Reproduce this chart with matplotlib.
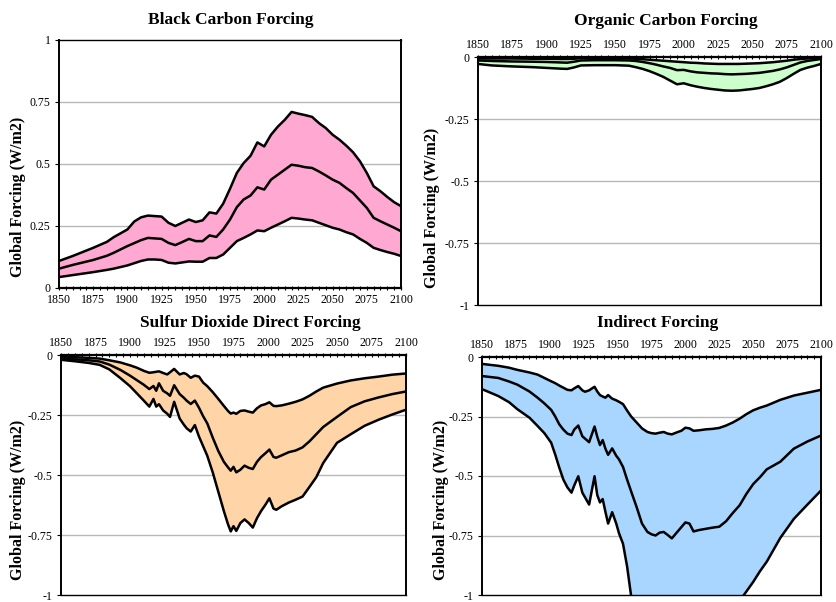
import numpy as np
import matplotlib
matplotlib.use("Agg")
import matplotlib.pyplot as plt

plt.rcParams['font.family'] = ['Liberation Serif', 'DejaVu Serif']

# ---- Black carbon (W/m2) ----
bc_years = [1850, 1860, 1875, 1885, 1890, 1900, 1905, 1910, 1915, 1920, 1925, 1930, 1935,
            1940, 1945, 1950, 1955, 1960, 1965, 1970, 1975, 1980, 1985, 1990, 1995, 2000,
            2005, 2010, 2015, 2020, 2025, 2030, 2035, 2040, 2045, 2050, 2055, 2060, 2065,
            2070, 2075, 2080, 2085, 2090, 2095, 2100]
bc_high = [0.109, 0.129, 0.162, 0.186, 0.205, 0.236, 0.268, 0.285, 0.292, 0.290, 0.288, 0.263, 0.250,
           0.263, 0.276, 0.266, 0.273, 0.305, 0.300, 0.340, 0.400, 0.464, 0.504, 0.533, 0.587, 0.571,
           0.618, 0.651, 0.678, 0.710, 0.703, 0.697, 0.690, 0.665, 0.645, 0.618, 0.598, 0.574, 0.547,
           0.511, 0.464, 0.410, 0.390, 0.367, 0.346, 0.330]
bc_mid = [0.078, 0.093, 0.113, 0.130, 0.142, 0.169, 0.181, 0.193, 0.202, 0.200, 0.198, 0.182, 0.173,
          0.185, 0.198, 0.189, 0.189, 0.212, 0.206, 0.236, 0.276, 0.326, 0.357, 0.373, 0.406, 0.397,
          0.437, 0.457, 0.477, 0.497, 0.493, 0.487, 0.484, 0.470, 0.454, 0.437, 0.424, 0.403, 0.383,
          0.353, 0.323, 0.283, 0.269, 0.256, 0.243, 0.229]
bc_low = [0.044, 0.052, 0.064, 0.073, 0.078, 0.091, 0.100, 0.109, 0.115, 0.115, 0.113, 0.102, 0.099,
          0.103, 0.107, 0.106, 0.106, 0.121, 0.121, 0.135, 0.162, 0.189, 0.202, 0.216, 0.232, 0.229,
          0.243, 0.256, 0.269, 0.283, 0.280, 0.276, 0.273, 0.263, 0.253, 0.243, 0.236, 0.225, 0.216,
          0.198, 0.182, 0.162, 0.153, 0.145, 0.138, 0.129]

# ---- Organic carbon ----
oc_years = [1850, 1860, 1875, 1890, 1900, 1910, 1915, 1920, 1925, 1935, 1950, 1960, 1965, 1970,
            1975, 1980, 1985, 1990, 1995, 2000, 2005, 2010, 2015, 2020, 2025, 2030, 2035, 2040,
            2045, 2050, 2055, 2060, 2065, 2070, 2075, 2080, 2085, 2090, 2095, 2100]
oc_high = [-0.006, -0.006, -0.006, -0.007, -0.007, -0.008, -0.008, -0.007, -0.005, -0.005, -0.005,
           -0.006, -0.007, -0.009, -0.011, -0.013, -0.015, -0.017, -0.019, -0.021, -0.023, -0.024,
           -0.026, -0.027, -0.028, -0.028, -0.028, -0.028, -0.027, -0.026, -0.025, -0.023, -0.021,
           -0.018, -0.015, -0.011, -0.008, -0.006, -0.004, -0.003]
oc_mid = [-0.014, -0.016, -0.018, -0.019, -0.020, -0.022, -0.023, -0.019, -0.014, -0.013, -0.013,
          -0.014, -0.016, -0.020, -0.025, -0.031, -0.038, -0.044, -0.053, -0.052, -0.058, -0.062,
          -0.064, -0.066, -0.067, -0.069, -0.070, -0.069, -0.068, -0.066, -0.064, -0.060, -0.056,
          -0.050, -0.042, -0.032, -0.022, -0.016, -0.012, -0.008]
oc_low = [-0.028, -0.034, -0.038, -0.041, -0.044, -0.047, -0.048, -0.042, -0.034, -0.033, -0.033,
          -0.035, -0.041, -0.048, -0.057, -0.068, -0.080, -0.095, -0.110, -0.106, -0.114, -0.120,
          -0.125, -0.129, -0.132, -0.135, -0.136, -0.135, -0.132, -0.129, -0.125, -0.118, -0.110,
          -0.100, -0.085, -0.068, -0.052, -0.043, -0.036, -0.028]

# ---- Sulfur dioxide direct ----
so2_years = [1850, 1860, 1870, 1878, 1885, 1893, 1900, 1905, 1910, 1914, 1917, 1919, 1921, 1924,
             1927, 1929, 1932, 1936, 1939, 1941, 1944, 1947, 1950, 1953, 1956, 1960, 1964, 1968,
             1971, 1973, 1975, 1977, 1980, 1983, 1986, 1989, 1992, 1995, 1998, 2001, 2004, 2006,
             2010, 2015, 2020, 2025, 2030, 2035, 2040, 2050, 2060, 2070, 2080, 2090, 2100]
so2_high = [-0.007, -0.009, -0.012, -0.015, -0.022, -0.031, -0.043, -0.053, -0.066, -0.074, -0.072,
            -0.070, -0.068, -0.075, -0.081, -0.072, -0.058, -0.081, -0.075, -0.080, -0.095, -0.086,
            -0.090, -0.115, -0.130, -0.155, -0.183, -0.212, -0.233, -0.244, -0.240, -0.245, -0.233,
            -0.231, -0.236, -0.240, -0.222, -0.210, -0.205, -0.197, -0.212, -0.213, -0.210, -0.203,
            -0.195, -0.185, -0.170, -0.152, -0.136, -0.119, -0.106, -0.097, -0.090, -0.082, -0.077]
so2_mid = [-0.014, -0.018, -0.022, -0.027, -0.040, -0.062, -0.086, -0.105, -0.124, -0.142, -0.129,
           -0.149, -0.118, -0.149, -0.160, -0.170, -0.126, -0.163, -0.178, -0.190, -0.204, -0.190,
           -0.220, -0.255, -0.285, -0.345, -0.400, -0.445, -0.468, -0.482, -0.466, -0.489, -0.478,
           -0.461, -0.470, -0.475, -0.445, -0.425, -0.410, -0.394, -0.425, -0.428, -0.418, -0.405,
           -0.398, -0.385, -0.360, -0.330, -0.300, -0.258, -0.217, -0.193, -0.177, -0.163, -0.152]
so2_low = [-0.020, -0.026, -0.033, -0.041, -0.060, -0.096, -0.130, -0.160, -0.190, -0.215, -0.183,
           -0.215, -0.205, -0.231, -0.245, -0.258, -0.195, -0.265, -0.290, -0.305, -0.319, -0.292,
           -0.340, -0.380, -0.420, -0.490, -0.570, -0.650, -0.705, -0.735, -0.713, -0.733, -0.700,
           -0.685, -0.700, -0.719, -0.680, -0.650, -0.625, -0.597, -0.640, -0.645, -0.630, -0.615,
           -0.603, -0.590, -0.550, -0.509, -0.450, -0.366, -0.330, -0.295, -0.270, -0.248, -0.228]

# ---- Indirect ----
ind_years = [1850, 1862, 1870, 1876, 1885, 1891, 1896, 1901, 1904, 1907, 1910, 1913, 1916, 1918,
             1921, 1924, 1926, 1929, 1933, 1935, 1937, 1939, 1941, 1943, 1946, 1949, 1951, 1954,
             1957, 1960, 1964, 1968, 1972, 1975, 1978, 1981, 1984, 1987, 1990, 1994, 1997, 2000,
             2003, 2006, 2010, 2015, 2020, 2025, 2030, 2035, 2040, 2045, 2050, 2055, 2060, 2070,
             2080, 2090, 2100]
ind_high = [-0.029, -0.037, -0.045, -0.054, -0.065, -0.074, -0.088, -0.102, -0.110, -0.120, -0.129,
            -0.138, -0.140, -0.132, -0.122, -0.140, -0.146, -0.140, -0.125, -0.145, -0.160, -0.166,
            -0.171, -0.160, -0.175, -0.182, -0.188, -0.198, -0.225, -0.250, -0.275, -0.300, -0.315,
            -0.320, -0.322, -0.318, -0.315, -0.322, -0.325, -0.316, -0.310, -0.297, -0.300, -0.310,
            -0.308, -0.304, -0.302, -0.298, -0.288, -0.275, -0.259, -0.240, -0.224, -0.213, -0.204,
            -0.180, -0.162, -0.150, -0.138]
ind_mid = [-0.080, -0.088, -0.103, -0.116, -0.145, -0.171, -0.195, -0.222, -0.250, -0.283, -0.305,
           -0.322, -0.328, -0.305, -0.288, -0.333, -0.343, -0.358, -0.292, -0.335, -0.370, -0.349,
           -0.385, -0.411, -0.384, -0.415, -0.430, -0.462, -0.515, -0.565, -0.630, -0.700, -0.735,
           -0.745, -0.750, -0.738, -0.735, -0.748, -0.762, -0.735, -0.715, -0.695, -0.700, -0.733,
           -0.727, -0.722, -0.717, -0.713, -0.690, -0.655, -0.623, -0.575, -0.534, -0.505, -0.472,
           -0.440, -0.385, -0.355, -0.330]
ind_low = [-0.135, -0.164, -0.190, -0.219, -0.255, -0.290, -0.320, -0.360, -0.410, -0.465, -0.515,
           -0.548, -0.570, -0.540, -0.501, -0.570, -0.590, -0.620, -0.501, -0.580, -0.611, -0.597,
           -0.650, -0.700, -0.652, -0.700, -0.740, -0.785, -0.880, -1.005, -1.100, -1.180, -1.240,
           -1.260, -1.270, -1.260, -1.260, -1.280, -1.290, -1.260, -1.240, -1.220, -1.225, -1.240,
           -1.230, -1.200, -1.170, -1.140, -1.100, -1.060, -1.025, -0.985, -0.945, -0.900, -0.860,
           -0.760, -0.680, -0.620, -0.561]

pos_ticks = [0, 0.25, 0.5, 0.75, 1]
pos_labels = ['0', '0.25', '0.5', '0.75', '1']
neg_ticks = [0, -0.25, -0.5, -0.75, -1]
neg_labels = ['0', '-0.25', '-0.5', '-0.75', '-1']
year_ticks = list(range(1850, 2101, 25))

W, H = 837, 602
fig = plt.figure(figsize=(W / 100, H / 100), dpi=100)


def px_axes(l, t, r, b):
    return fig.add_axes([l / W, 1 - b / H, (r - l) / W, (b - t) / H])


def panel(ax, years, hi, mid, lo, color, ticks, labels, top_axis):
    ax.fill_between(years, hi, lo, color=color, lw=0, zorder=2)
    for s in (hi, mid, lo):
        ax.plot(years, s, color='black', lw=1.8, zorder=3, solid_joinstyle='round')
    ax.set_xlim(1850, 2100)
    lo_lim, hi_lim = min(ticks), max(ticks)
    ax.set_ylim(lo_lim, hi_lim)
    ax.set_yticks(ticks)
    ax.set_yticklabels(labels)
    for t in ticks:
        if t not in (lo_lim, hi_lim) and t != 0:
            ax.axhline(t, color='#b8b8b8', lw=1.0, zorder=1)
    ax.set_xticks(year_ticks)
    ax.set_xticks(range(1850, 2101, 5), minor=True)
    ax.tick_params(axis='x', which='both', direction='inout', length=3, width=0.8,
                   labelsize=8.6, pad=2.5)
    ax.tick_params(axis='y', which='both', direction='out', length=3, width=0.8,
                   labelsize=8.6, pad=3)
    if top_axis:
        ax.xaxis.tick_top()
        ax.tick_params(axis='x', which='both', bottom=False)
    for sp in ax.spines.values():
        sp.set_color('black')
        sp.set_linewidth(1.0)
    ax.spines['left'].set_linewidth(1.4)
    ax.spines['top' if top_axis else 'bottom'].set_linewidth(1.6)
    ax.spines['right'].set_linewidth(1.4)


ax1 = px_axes(59, 40, 401, 288)
panel(ax1, bc_years, bc_high, bc_mid, bc_low, '#ffa8d2', pos_ticks, pos_labels, False)
ax2 = px_axes(478, 57, 821, 305)
panel(ax2, oc_years, oc_high, oc_mid, oc_low, '#ccffcc', neg_ticks, neg_labels, True)
ax3 = px_axes(61, 355, 406, 595)
panel(ax3, so2_years, so2_high, so2_mid, so2_low, '#ffd4a6', neg_ticks, neg_labels, True)
ax4 = px_axes(482, 357, 821, 595)
panel(ax4, ind_years, ind_high, ind_mid, ind_low, '#a8d6ff', neg_ticks, neg_labels, True)

titles = [("Black Carbon Forcing", 231, 20), ("Organic Carbon Forcing", 666, 21),
          ("Sulfur Dioxide Direct Forcing", 250, 323), ("Indirect Forcing", 658, 323)]
for txt, x, y in titles:
    fig.text(x / W, 1 - y / H, txt, ha='center', va='center', fontsize=12.5, fontweight='bold')

ylabels = [(18, 197), (432, 208), (18, 500), (441, 500)]
for x, y in ylabels:
    fig.text(x / W, 1 - y / H, "Global Forcing (W/m2)", ha='center', va='center',
             rotation=90, fontsize=11.5, fontweight='bold')

fig.savefig("out.png", dpi=100)
